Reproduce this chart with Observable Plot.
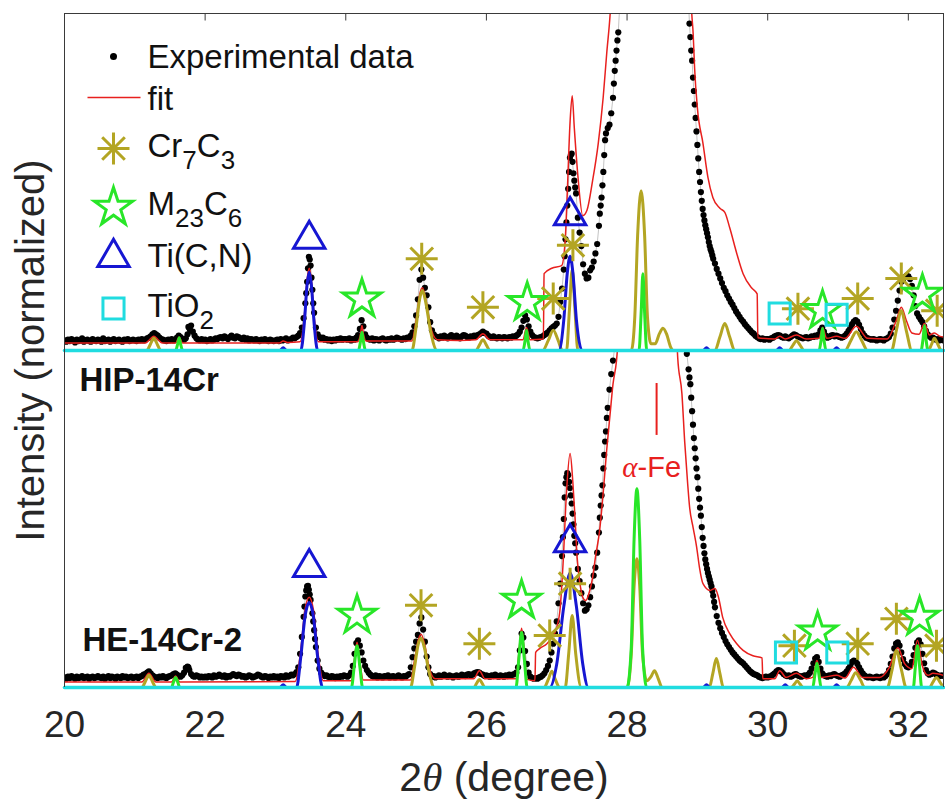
<!DOCTYPE html>
<html><head><meta charset="utf-8">
<script src="https://cdn.jsdelivr.net/npm/d3@7"></script>
<script src="https://cdn.jsdelivr.net/npm/@observablehq/plot@0.6"></script>
<style>
body{margin:0;background:#fff;}
#chart{width:945px;height:801px;}
</style></head><body><div id="chart"></div>
<script>
// ---------- data ----------
const panels = ["HIP-14Cr", "HE-14Cr-2"];
const xDomain = [20, 32.5];
const yDomain = [0, 50];
const xTicks = [20, 22, 24, 26, 28, 30, 32];
const xLabel = "2*θ* (degree)";
const yLabel = "Intensity (normalized)";
const legendLabels = ["Experimental data", "fit", "Cr_{7}C_{3}", "M_{23}C_{6}", "Ti(C,N)", "TiO_{2}"];
const gridStart = 20, gridStep = 0.025; // measurement grid of 2θ

// experimental intensities, upper panel (HIP-14Cr), one row per degree
const expUpper = [
1.5,1.3,1.6,1.4,1.7,1.5,1.2,1.6,1.4,1.5,1.8,1.3,1.5,1.6,1.4,1.3,1.7,1.5,1.4,1.6,1.5,1.3,1.8,1.4,1.5,1.6,1.3,1.5,1.7,1.4,1.5,1.6,1.4,1.3,1.6,1.5,1.7,1.4,1.5,1.6,
1.5,1.4,1.6,1.5,1.7,1.5,1.6,1.8,1.9,2.1,2.4,2.6,2.4,2.2,1.9,1.7,1.6,1.5,1.4,1.6,1.5,1.7,1.5,1.6,1.9,2.2,2.0,1.7,1.6,1.8,2.4,3.3,3.7,2.8,2.2,1.8,1.6,1.5,1.7,1.5,
1.6,1.4,1.5,1.7,1.5,1.6,1.8,1.7,1.9,2.0,1.8,2.1,1.9,1.7,2.0,2.2,1.9,1.8,2.1,2.0,1.8,1.7,1.9,1.6,1.8,1.5,1.7,1.6,1.5,1.7,1.5,1.4,1.6,1.5,1.7,1.5,1.4,1.6,1.5,1.4,
1.5,1.6,1.4,1.7,1.5,1.6,1.8,1.5,1.6,1.7,1.9,1.8,2.0,2.2,2.6,3.4,4.8,7.0,10.2,13.9,12.6,9.0,5.6,3.4,2.4,2.0,1.8,1.9,1.6,1.7,1.5,1.6,1.4,1.6,1.5,1.7,1.6,1.8,1.6,1.7,
1.7,1.6,1.8,1.5,1.7,1.6,1.9,2.3,3.2,4.5,3.6,2.4,1.9,1.7,1.6,1.8,1.5,1.7,1.6,1.5,1.7,1.8,1.6,1.5,1.7,1.6,1.8,1.6,1.7,1.9,1.8,1.7,1.6,1.8,1.7,1.9,1.9,2.2,2.7,3.6,
5.2,7.6,10.5,12.0,10.8,9.3,8.2,6.4,4.2,3.0,2.4,2.1,2.0,1.8,2.1,1.9,2.2,2.0,1.8,2.1,2.3,2.0,1.9,2.2,2.0,1.8,2.1,2.3,2.2,2.0,1.9,2.1,2.0,2.2,2.1,2.3,2.4,2.6,2.8,2.6,
2.5,2.2,2.0,1.9,2.1,1.9,1.8,2.0,1.9,1.8,2.0,1.9,1.8,2.0,1.9,2.1,2.0,2.2,2.4,2.8,3.4,4.4,5.2,4.6,3.6,2.8,2.3,2.0,1.9,1.8,1.9,2.0,2.1,2.3,2.5,2.7,3.0,3.3,3.5,3.7,
4.0,5.0,7.2,9.2,12.0,16.5,21.5,26.5,29.0,28.0,25.2,23.3,19.7,17.5,15.5,12.8,11.4,10.7,10.8,11.9,12.3,13.2,14.4,15.8,18.5,21.5,24.5,29.0,32.2,33.0,33.5,35.2,37.5,41.5,44.5,47.2,52,58,66,75,
86,98,110,124,138,152,166,178,189,198,205,210,213,214,212,208,201,192,181,168,154,140,126,112,100,90,81,74,68,63,59,56,54,53,52.5,51.5,46.5,43,38.5,34.5,
30.5,26.5,23.5,21.0,19.3,18.0,16.8,15.5,14.6,13.6,12.9,12.1,11.4,10.7,10.0,9.3,8.8,8.2,7.7,7.2,6.8,6.3,5.8,5.4,5.0,4.6,4.3,3.9,3.6,3.3,3.0,2.7,2.5,2.2,2.0,1.8,1.7,1.8,1.6,1.7,
1.7,1.6,1.8,1.9,2.1,2.2,2.3,2.2,2.0,1.9,2.1,1.9,1.8,2.0,2.2,2.4,2.3,2.1,2.0,1.9,1.8,1.9,2.0,1.8,1.9,2.1,2.0,2.2,2.1,2.4,3.0,3.4,2.8,2.2,1.9,2.0,2.2,2.3,2.1,2.2,
2.1,2.0,1.9,2.0,2.2,2.5,2.9,3.4,3.9,4.3,4.5,4.3,3.8,3.2,2.6,2.2,1.9,1.8,1.7,1.6,1.7,1.6,1.5,1.6,1.7,1.6,1.5,1.7,1.8,2.0,2.5,3.4,4.6,5.9,7.4,8.9,10.2,10.6,10.9,11.1,
11.0,10.6,9.6,8.2,6.6,5.5,5.0,4.6,4.2,3.6,2.9,2.4,2.1,1.9,1.9,1.7,1.6,1.7,1.5,1.6,1.5
];
// extra points read between grid positions on steep flanks, upper panel
const expUpperExtra = [
[21.7625,3.5],[21.7875,3.0],
[23.4375,8.5],[23.4625,12.2],[23.4875,13.5],[23.5125,10.8],[23.5375,7.0],
[27.1125,14.0],[27.1375,19.0],[27.1625,24.0],[27.1875,28.6],[27.2125,29.2],[27.2375,26.3],[27.2625,24.2],
[27.6125,20.3],[27.6375,22.7],[27.6625,26.5],[27.6875,31.2],[27.8125,39.6],[27.8375,43.0],[27.8625,46.0],
[28.8875,48.5],[28.9125,44.5],[28.9375,40.5],[28.9625,36.5],[28.9875,32.5],[29.0125,28.5],[29.0375,25.0],[29.0625,22.2],
[29.0875,20.1],[29.1125,18.6],[29.1375,17.4],[29.1625,16.1],[29.1875,15.0],[29.2125,14.1]
];
// experimental intensities, lower panel (HE-14Cr-2)
const expLower = [
1.5,1.3,1.6,1.4,1.7,1.5,1.3,1.6,1.4,1.5,1.7,1.4,1.5,1.6,1.3,1.5,1.6,1.4,1.5,1.7,1.5,1.4,1.6,1.3,1.5,1.7,1.4,1.6,1.5,1.3,1.6,1.5,1.4,1.7,1.5,1.6,1.4,1.5,1.6,1.4,
1.5,1.6,1.4,1.6,1.7,1.9,2.0,2.2,2.4,2.1,1.8,1.6,1.5,1.4,1.6,1.5,1.7,1.5,1.4,1.6,1.7,1.8,2.0,2.1,1.9,1.7,1.6,1.8,2.2,2.9,3.1,2.6,2.0,1.7,1.6,1.8,1.7,1.5,1.6,1.5,
1.6,1.5,1.7,1.6,1.5,1.8,1.6,1.7,1.9,1.7,1.6,1.8,1.5,1.7,1.6,1.8,2.0,1.8,1.7,1.9,1.8,1.6,1.7,1.5,1.6,1.8,1.7,1.5,1.6,1.7,1.9,1.8,1.6,1.5,1.7,1.6,1.4,1.6,1.5,1.7,
1.5,1.6,1.4,1.7,1.6,1.5,1.8,1.6,1.7,1.9,1.8,2.0,2.3,3.0,5.0,7.5,10.5,13.5,15.0,14.5,13.0,11.0,8.5,6.0,4.0,2.8,2.2,1.9,1.7,1.8,1.6,1.5,1.7,1.6,1.4,1.6,1.5,1.7,1.6,1.8,
1.7,1.6,1.8,2.2,3.2,5.0,6.6,7.0,6.2,5.2,4.0,3.2,2.6,2.2,1.9,1.7,1.6,1.8,1.5,1.7,1.6,1.5,1.7,1.6,1.8,1.5,1.6,1.7,1.5,1.6,1.8,1.6,1.5,1.7,1.6,1.8,2.0,3.0,4.5,5.8,
6.8,7.8,9.5,10.4,8.6,6.8,4.6,3.0,2.0,1.6,1.7,1.5,1.6,1.8,1.6,1.7,1.9,1.7,1.6,1.8,1.7,1.5,1.7,1.8,1.6,1.7,1.9,1.8,1.7,1.9,2.0,1.8,1.9,2.1,2.2,2.3,2.2,2.0,1.9,1.7,
1.8,1.7,1.6,1.8,1.7,1.9,1.7,1.6,1.8,1.7,1.6,1.8,1.7,1.9,1.8,1.9,2.0,2.2,3.0,5.5,8.0,7.4,5.4,3.5,2.2,1.6,1.4,1.3,1.4,1.3,1.5,1.6,1.8,2.1,2.6,3.2,4.0,5.2,6.5,8.0,
9.8,12.5,15.4,19.5,25.0,30.3,31.8,30.5,28.5,25.8,22.5,20.0,17.6,15.8,14.0,12.5,11.4,11.6,12.2,13.4,15.0,16.6,17.8,20.0,23.0,27.0,30.0,34.5,38.0,41.5,44.2,46.5,48.5,50.5,55,60,66,73,80,88,
96,105,115,126,138,150,162,174,185,195,203,209,213,215,214,210,204,196,186,174,161,147,133,119,106,94,84,75,68,62,58,55,53,51.5,49.5,47.2,45.0,41.0,37.0,34.0,
31.2,28.0,25.5,22.2,19.9,18.3,17.0,16.0,15.0,13.6,11.9,10.6,9.6,8.8,8.1,7.5,6.9,6.4,6.0,5.6,5.2,4.9,4.6,4.3,4.0,3.8,3.6,3.3,3.0,2.7,2.4,2.2,2.0,1.9,1.8,1.6,1.5,1.4,1.5,1.6,
1.5,1.6,1.7,1.9,2.1,2.4,2.6,2.5,2.3,2.0,1.8,1.7,1.8,1.6,1.7,1.9,2.0,1.8,1.7,1.6,1.7,1.8,1.7,1.9,2.2,2.8,3.6,4.3,4.5,3.8,2.8,2.1,1.8,1.7,1.6,1.8,1.7,1.9,2.0,1.8,
1.7,1.6,1.8,1.9,2.1,2.4,2.8,3.3,3.8,4.0,3.9,3.5,3.0,2.5,2.1,1.8,1.6,1.5,1.6,1.5,1.4,1.5,1.6,1.5,1.4,1.6,1.5,1.7,2.0,2.6,3.5,4.6,5.8,6.5,6.7,6.2,5.2,4.2,3.5,3.1,
3.0,3.2,3.8,4.8,5.9,6.7,7.0,6.4,5.0,3.6,2.6,2.1,1.9,2.0,2.2,2.1,1.9,1.8,1.7,1.8,1.7
];
const expLowerExtra = [
[21.7625,3.0],
[23.4125,12.0],[23.4375,14.4],[23.4625,15.1],[23.4875,13.8],[23.5375,9.8],[23.5625,7.2],
[27.0875,22.3],[27.1125,28.2],[27.1375,31.2],[27.1625,31.5],[27.1875,29.6],[27.2125,27.3],[27.2375,24.2],[27.2625,21.4],
[27.6125,25.2],[27.6375,28.5],[27.6625,32.5],[27.6875,36.5],[27.7125,40.0],
[28.8875,46.0],[28.9125,43.0],[28.9375,39.0],[28.9625,35.5],[28.9875,32.5],[29.0125,29.5],[29.0375,26.7],[29.0625,23.8],
[29.0875,21.0],[29.1125,19.0],[29.1375,17.6],[29.1625,16.5],[29.1875,15.5],[29.2125,14.3],[29.2375,12.7]
];

// fit (red)
const fitUpper = [[20,1.1],[21.15,1.1],[21.21,1.6],[21.27,2.1],[21.33,1.6],[21.39,1.1],[21.58,1.1],[21.63,2.0],[21.68,1.1],[23.05,1.1],[23.11,1.4],[23.17,1.2],[23.35,1.3],[23.41,5.0],[23.45,10.5],[23.48,12.2],[23.51,10.5],[23.55,5.0],[23.61,1.3],[24.17,1.3],[24.21,2.5],[24.23,3.7],[24.25,2.5],[24.29,1.4],[24.94,1.4],[25.0,4.5],[25.05,8.3],[25.09,9.3],[25.14,7.5],[25.2,3.8],[25.3,1.6],[25.6,1.5],[25.85,1.6],[25.95,2.5],[26.05,1.6],[26.52,1.6],[26.57,3.4],[26.62,1.6],[26.81,1.7],[26.82,11.4],[26.93,12.2],[27.07,12.6],[27.12,16.3],[27.15,23.5],[27.19,34.0],[27.22,37.8],[27.25,33.0],[27.3,26.0],[27.37,20.0],[27.43,20.8],[27.51,25.2],[27.59,30.7],[27.66,37.5],[27.71,44.0],[27.76,50.0],[27.82,62],[28.0,110],[28.4,200],[28.75,110],[28.88,60],[28.92,50.0],[28.94,47.0],[28.96,42.0],[29.0,36.0],[29.08,30.7],[29.15,25.7],[29.22,22.7],[29.32,21.1],[29.39,20.5],[29.46,18.2],[29.56,14.4],[29.65,11.4],[29.77,9.3],[29.85,8.4],[29.86,1.9],[30.1,1.7],[30.17,2.1],[30.25,1.7],[30.41,2.3],[30.55,1.7],[30.73,1.8],[30.78,3.4],[30.84,1.8],[30.98,2.1],[31.1,1.8],[31.26,3.6],[31.42,1.8],[31.7,1.7],[31.83,4.5],[31.9,6.4],[31.97,4.5],[32.05,2.6],[32.15,2.4],[32.23,4.0],[32.3,2.3],[32.37,2.6],[32.45,2.1],[32.5,2.0]];
const fitLower = [[20,0.8],[21.1,0.8],[21.2,2.1],[21.3,0.8],[21.52,0.8],[21.58,1.7],[21.64,0.8],[23.28,0.9],[23.36,5.5],[23.42,11.5],[23.48,13.4],[23.54,11.5],[23.6,5.5],[23.68,1.0],[24.08,1.0],[24.12,3.8],[24.16,6.7],[24.2,3.8],[24.25,1.1],[24.92,1.1],[24.98,4.2],[25.03,7.0],[25.07,7.9],[25.12,6.5],[25.18,3.2],[25.27,1.3],[25.82,1.3],[25.9,2.5],[25.98,1.3],[26.42,1.3],[26.46,5.0],[26.5,8.8],[26.54,5.0],[26.58,1.2],[26.69,1.0],[26.7,5.2],[26.76,5.8],[26.86,6.5],[26.93,7.4],[27.0,8.9],[27.05,11.9],[27.09,18.4],[27.14,29.2],[27.19,34.7],[27.23,30.3],[27.26,25.2],[27.29,19.3],[27.33,15.4],[27.37,13.4],[27.41,12.9],[27.47,14.4],[27.51,16.3],[27.55,19.3],[27.61,23.3],[27.66,28.8],[27.71,35.2],[27.76,40.7],[27.8,45.0],[27.85,48.5],[27.9,56],[28.1,120],[28.42,210],[28.65,80],[28.7,55],[28.72,49.0],[28.78,43.6],[28.82,36.4],[28.86,30.5],[28.89,26.7],[28.94,23.7],[28.99,20.8],[29.03,17.8],[29.08,15.4],[29.18,14.4],[29.25,14.7],[29.3,13.4],[29.36,10.4],[29.46,8.0],[29.56,6.5],[29.65,5.5],[29.79,4.7],[29.92,4.4],[29.93,1.3],[30.1,1.3],[30.17,2.5],[30.26,1.5],[30.41,2.1],[30.55,1.3],[30.64,1.5],[30.7,4.0],[30.76,1.5],[30.98,1.8],[31.1,1.4],[31.22,3.0],[31.35,1.5],[31.59,1.5],[31.72,2.8],[31.85,5.9],[31.95,3.5],[32.05,2.8],[32.13,7.0],[32.2,3.2],[32.28,1.8],[32.35,2.1],[32.5,1.8]];

// phase components
const cr7c3Upper = [[20,0],[21.17,0],[21.22,0.9],[21.27,1.8],[21.32,0.9],[21.37,0],[24.94,0],[25.0,3.5],[25.05,7.6],[25.09,8.9],[25.14,7.0],[25.2,3.2],[25.3,0],[25.85,0],[25.9,0.8],[25.95,1.6],[26.0,0.8],[26.05,0],[26.8,0],[26.88,1.5],[26.95,3.0],[27.02,1.5],[27.08,0],[27.14,0],[27.18,6.0],[27.22,12.0],[27.26,6.0],[27.3,0],[28.06,0],[28.11,5.0],[28.15,17.0],[28.2,23.7],[28.25,17.0],[28.29,5.0],[28.34,1.0],[28.4,1.0],[28.46,2.5],[28.51,3.3],[28.56,2.5],[28.62,0.5],[28.66,0],[29.25,0],[29.32,2.0],[29.39,4.0],[29.46,2.0],[29.53,0],[30.3,0],[30.36,0.8],[30.41,1.5],[30.46,0.8],[30.52,0],[31.1,0],[31.18,1.4],[31.26,2.8],[31.34,1.4],[31.42,0],[31.76,0],[31.83,3.0],[31.9,5.9],[31.97,3.0],[32.05,0],[32.28,0],[32.33,0.9],[32.37,1.8],[32.42,0.9],[32.47,0],[32.5,0]];
const cr7c3Lower = [[20,0],[21.1,0],[21.15,0.9],[21.2,1.8],[21.25,0.9],[21.3,0],[24.92,0],[24.98,3.2],[25.03,6.4],[25.07,7.3],[25.12,5.8],[25.18,2.5],[25.26,0],[25.82,0],[25.86,0.6],[25.9,1.2],[25.94,0.6],[25.98,0],[26.82,0],[26.88,1.2],[26.93,2.4],[26.98,1.2],[27.04,0],[27.12,0],[27.17,5.0],[27.22,10.7],[27.27,5.0],[27.35,0],[28.0,0],[28.06,5.0],[28.1,15.0],[28.14,19.1],[28.18,15.0],[28.22,5.0],[28.28,1.0],[28.34,1.6],[28.39,2.5],[28.44,1.4],[28.5,0],[29.17,0],[29.22,2.1],[29.27,4.3],[29.32,2.1],[29.37,0],[30.33,0],[30.38,0.5],[30.42,1.0],[30.46,0.5],[30.51,0],[31.12,0],[31.19,1.1],[31.25,2.2],[31.32,1.1],[31.38,0],[31.7,0],[31.77,2.7],[31.83,5.5],[31.9,2.7],[31.97,0],[32.3,0],[32.35,0.8],[32.4,1.5],[32.45,0.8],[32.5,0]];
const m23c6Upper = [[20,0],[21.58,0],[21.61,1.0],[21.63,1.9],[21.65,1.0],[21.68,0],[24.18,0],[24.21,1.4],[24.23,2.7],[24.25,1.4],[24.28,0],[26.52,0],[26.55,1.5],[26.57,3.0],[26.59,1.5],[26.62,0],[28.17,0],[28.2,5.5],[28.225,11.4],[28.25,5.5],[28.28,0],[30.73,0],[30.76,1.6],[30.78,3.3],[30.8,1.6],[30.83,0],[32.18,0],[32.21,1.8],[32.23,3.7],[32.25,1.8],[32.28,0],[32.5,0]];
const m23c6Lower = [[20,0],[21.52,0],[21.55,0.8],[21.58,1.5],[21.61,0.8],[21.64,0],[24.08,0],[24.12,3.1],[24.16,6.2],[24.2,3.1],[24.24,0],[26.42,0],[26.46,4.1],[26.5,8.2],[26.54,4.1],[26.58,0],[28.0,0],[28.06,6.0],[28.1,22.0],[28.14,29.5],[28.18,22.0],[28.22,6.0],[28.28,0],[30.64,0],[30.67,1.8],[30.7,3.6],[30.73,1.8],[30.76,0],[32.07,0],[32.1,3.1],[32.13,6.2],[32.16,3.1],[32.19,0],[32.5,0]];
const ticnUpper = [[20,0],[23.06,0],[23.11,0.4],[23.16,0],[23.36,0],[23.41,4.0],[23.45,9.8],[23.48,11.6],[23.51,9.8],[23.55,4.0],[23.6,0],[27.03,0],[27.1,4.5],[27.15,11.5],[27.19,14.0],[27.23,11.5],[27.28,4.5],[27.36,0],[29.08,0],[29.13,0.4],[29.18,0],[30.12,0],[30.17,0.4],[30.22,0],[30.93,0],[30.98,0.4],[31.03,0],[32.5,0]];
const ticnLower = [[20,0],[23.06,0],[23.11,0.4],[23.16,0],[23.3,0],[23.36,4.5],[23.42,10.5],[23.48,12.6],[23.54,10.5],[23.6,4.5],[23.67,0],[26.9,0],[27.0,3.5],[27.1,12.0],[27.19,17.0],[27.28,12.0],[27.37,3.5],[27.45,0],[29.08,0],[29.13,0.4],[29.18,0],[30.2,0],[30.25,0.4],[30.3,0],[30.93,0],[30.98,0.4],[31.03,0],[32.5,0]];
const tio2Upper = [[20,0],[32.5,0]];
const tio2Lower = [[20,0],[32.5,0]];

// peak markers
const cr7c3MarksUpper = [[25.08,13.6],[25.95,6.4],[26.95,7.7],[27.23,15.6],[30.43,6.2],[31.28,7.7],[31.9,10.7],[32.41,5.9]];
const cr7c3MarksLower = [[25.07,12.2],[25.9,6.5],[26.9,7.7],[27.19,15.4],[30.38,6.2],[31.28,6.5],[31.83,10.2],[32.4,6.2]];
const m23c6MarksUpper = [[24.23,7.6],[26.58,7.1],[30.78,5.9],[32.2,8.3]];
const m23c6MarksLower = [[24.16,10.7],[26.5,12.9],[30.71,8.2],[32.16,10.4]];
const ticnMarksUpper = [[23.48,16.5],[27.19,20.0]];
const ticnMarksLower = [[23.48,17.8],[27.19,21.5]];
const tio2MarksUpper = [[30.17,5.5],[30.98,5.3]];
const tio2MarksLower = [[30.26,5.2],[30.99,5.2]];

const alphaFeLabel = [{label: "*α*-Fe", x: 28.35, y: 32.6}];
const alphaFeTick = [{x: 28.42, y1: 37.4, y2: 45.1}];

// ---------- colours ----------
const RED = "#e8201e", OLIVE = "#b3a523", GREEN = "#28e628", BLUE = "#1616d2", CYAN = "#20dce0";

// ---------- helpers ----------
const rows = (pairs, panel) => pairs.map(([x, y]) => ({x, y, panel}));
function expRows(vals, extra, panel) {
  const r = vals.map((v, i) => ({x: +(gridStart + i * gridStep).toFixed(4), y: v, panel}));
  extra.forEach(([x, y]) => r.push({x, y, panel}));
  r.sort((a, b) => a.x - b.x);
  return r;
}
const expData = expRows(expUpper, expUpperExtra, panels[0]).concat(expRows(expLower, expLowerExtra, panels[1]));
const both = (u, l) => rows(u, panels[0]).concat(rows(l, panels[1]));

const asteriskSym = {draw(ctx, size) {
  const r = Math.sqrt(size / Math.PI), d = r * Math.SQRT1_2;
  ctx.moveTo(-r, 0); ctx.lineTo(r, 0); ctx.moveTo(0, -r); ctx.lineTo(0, r);
  ctx.moveTo(-d, -d); ctx.lineTo(d, d); ctx.moveTo(-d, d); ctx.lineTo(d, -d);
}};
const hlineSym = {draw(ctx, size) { const r = Math.sqrt(size / Math.PI); ctx.moveTo(-r, 0); ctx.lineTo(r, 0); }};
const tickSym = {draw(ctx, size) { const r = Math.sqrt(size / Math.PI); ctx.moveTo(0, 0); ctx.lineTo(0, r); }};

const up = () => panels[0], lo = () => panels[1];
const comp = (u, l, color, w) => Plot.line(both(u, l), {x: "x", y: "y", fy: "panel", stroke: color, strokeWidth: w, curve: "monotone-x", clip: true});
const marks = (u, l, opts) => Plot.dot(both(u, l), {x: "x", y: "y", fy: "panel", fill: "none", strokeWidth: 3, clip: true, ...opts});

const legendDy = [44, 86, 133, 190.5, 243, 293];
const legendMarks = [
  Plot.dot([0], {frameAnchor: "top-left", dx: 49, dy: 43, r: 3.5, fill: "black", fy: up}),
  Plot.dot([0], {frameAnchor: "top-left", dx: 49.5, dy: 84, r: 26.5, symbol: hlineSym, stroke: RED, strokeWidth: 1.6, fill: "none", fy: up}),
  Plot.dot([0], {frameAnchor: "top-left", dx: 49, dy: 135, r: 16, symbol: asteriskSym, stroke: OLIVE, strokeWidth: 3, fill: "none", fy: up}),
  Plot.dot([0], {frameAnchor: "top-left", dx: 49, dy: 194, r: 12, symbol: "star", stroke: GREEN, strokeWidth: 3, fill: "none", fy: up}),
  Plot.dot([0], {frameAnchor: "top-left", dx: 49, dy: 244, r: 15, symbol: "triangle2", stroke: BLUE, strokeWidth: 3, fill: "none", fy: up}),
  Plot.dot([0], {frameAnchor: "top-left", dx: 49, dy: 295, r: 11.9, symbol: "square", stroke: CYAN, strokeWidth: 3, fill: "none", fy: up}),
  ...legendLabels.map((lab, i) => Plot.text([lab], {frameAnchor: "top-left", dx: 83, dy: legendDy[i], text: d => d, fontSize: 33, textAnchor: "start", lineAnchor: "middle", fill: "#111", fy: up}))
];

const chart = Plot.plot({
  width: 945, height: 801,
  marginTop: 13, marginBottom: 114, marginLeft: 64, marginRight: 2,
  style: {fontFamily: "'Liberation Sans', Arial, Helvetica, sans-serif", fontSize: "37px", color: "#262626", background: "white"},
  x: {domain: xDomain, ticks: xTicks, tickSize: 0, tickPadding: 23, label: null},
  y: {domain: yDomain, axis: null},
  fy: {domain: panels, padding: 0, axis: null},
  marks: [
    Plot.line(expData, {x: "x", y: "y", fy: "panel", stroke: "#c4c4c4", strokeWidth: 1, clip: true}),
    Plot.dot(expData, {x: "x", y: "y", fy: "panel", r: 3.1, fill: "black", clip: true}),
    comp(fitUpper, fitLower, RED, 1.5),
    comp(cr7c3Upper, cr7c3Lower, OLIVE, 3),
    comp(m23c6Upper, m23c6Lower, GREEN, 3),
    comp(ticnUpper, ticnLower, BLUE, 3),
    Plot.line(both(tio2Upper, tio2Lower), {x: "x", y: "y", fy: "panel", stroke: CYAN, strokeWidth: 3.5}),
    marks(cr7c3MarksUpper, cr7c3MarksLower, {symbol: asteriskSym, r: 16, stroke: OLIVE}),
    marks(m23c6MarksUpper, m23c6MarksLower, {symbol: "star", r: 12, stroke: GREEN}),
    marks(ticnMarksUpper, ticnMarksLower, {symbol: "triangle2", r: 15, stroke: BLUE}),
    marks(tio2MarksUpper, tio2MarksLower, {symbol: "square", r: 11.9, stroke: CYAN}),
    Plot.ruleX(alphaFeTick, {x: "x", y1: "y1", y2: "y2", stroke: RED, strokeWidth: 2, fy: lo}),
    Plot.text(alphaFeLabel, {x: "x", y: "y", text: "label", fill: RED, fontSize: 29, lineAnchor: "middle", fy: lo}),
    // frame
    Plot.ruleX(xDomain, {stroke: "#3a3a3a", strokeWidth: 1}),
    Plot.ruleY([yDomain[1]], {stroke: "#3a3a3a", strokeWidth: 1, fy: up}),
    Plot.dot(xTicks, {x: d => d, frameAnchor: "top", symbol: tickSym, r: 7, stroke: "#3a3a3a", strokeWidth: 1, fill: "none", fy: up}),
    // labels
    Plot.text([panels[0]], {frameAnchor: "top-left", dx: 15, dy: 29.5, text: d => d, fontSize: 33, fontWeight: "bold", textAnchor: "start", lineAnchor: "middle", fill: "#111", fy: lo}),
    Plot.text([panels[1]], {frameAnchor: "bottom-left", dx: 18, dy: -47.5, text: d => d, fontSize: 33, fontWeight: "bold", textAnchor: "start", lineAnchor: "middle", fill: "#111", fy: lo}),
    Plot.text([yLabel], {frameAnchor: "bottom-left", dx: -33.5, rotate: -90, text: d => d, fontSize: 40, textAnchor: "middle", lineAnchor: "middle", fill: "#262626", fy: up}),
    Plot.text([xLabel], {frameAnchor: "bottom", dy: 90, text: d => d, fontSize: 41, lineAnchor: "middle", fill: "#262626", fy: lo}),
    ...legendMarks
  ]
});

// rich text: _{..} subscript, *..* italic
const NS = "http://www.w3.org/2000/svg";
chart.querySelectorAll("text").forEach(t => {
  const s = t.textContent;
  if (!/_\{|\*/.test(s)) return;
  const toks = s.split(/(_\{[^}]*\}|\*[^*]*\*)/).filter(x => x);
  t.textContent = "";
  let shift = 0;
  for (const tok of toks) {
    const ts = document.createElementNS(NS, "tspan");
    if (tok.startsWith("_{")) {
      ts.textContent = tok.slice(2, -1);
      ts.setAttribute("font-size", "26px");
      ts.setAttribute("dy", String(12 - shift)); shift = 12;
    } else {
      if (tok.startsWith("*")) {
        ts.textContent = tok.slice(1, -1);
        ts.setAttribute("font-style", "italic");
        ts.setAttribute("font-family", "'Liberation Serif', 'DejaVu Serif', serif");
      } else ts.textContent = tok;
      if (shift) { ts.setAttribute("dy", String(-shift)); shift = 0; }
    }
    t.appendChild(ts);
  }
});
document.getElementById("chart").appendChild(chart);
</script></body></html>
